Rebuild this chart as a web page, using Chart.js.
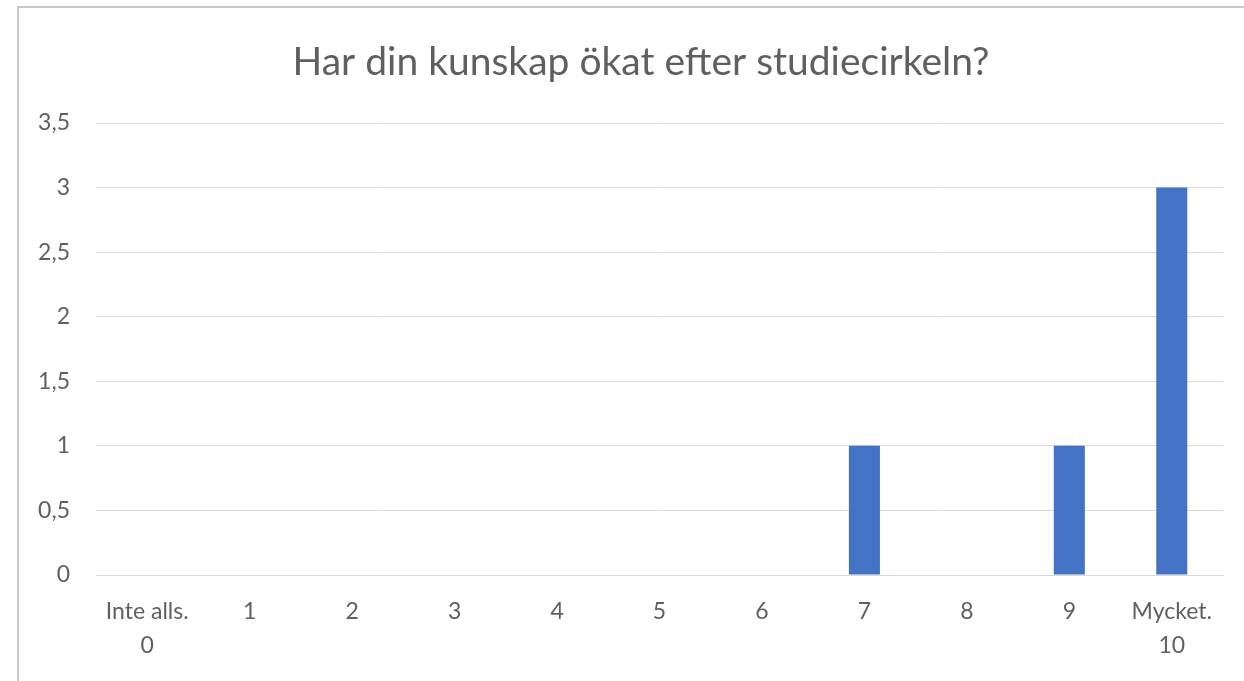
<!DOCTYPE html>
<html>
<head>
<meta charset="utf-8">
<script src="https://cdn.jsdelivr.net/npm/chart.js@4/dist/chart.umd.min.js"></script>
<style>
  html, body { margin:0; padding:0; background:#fff; overflow:hidden; }
  #frame { position:absolute; left:17px; top:6px; width:1400px; height:800px;
           border-top:2px solid #c8c8c8; border-left:2px solid #c8c8c8; box-sizing:border-box; }
  #wrap { position:absolute; left:0; top:0; width:1244px; height:681px; }
</style>
</head>
<body>
<div id="frame"></div>
<div id="wrap"><canvas id="chart"></canvas></div>
<script>
// ─── Data ─────────────────────────────────────────
const categories = [['Inte alls.', '0'], '1', '2', '3', '4', '5', '6', '7', '8', '9', ['Mycket.', '10']];
const answers    = [0, 0, 0, 0, 0, 0, 0, 1, 0, 1, 3];
const yTicks     = [0, 0.5, 1, 1.5, 2, 2.5, 3, 3.5];
const TITLE      = 'Har din kunskap ökat efter studiecirkeln?';

const TEXT = '#5f5f5f';
const GRID = '#d9d9d9';
const BAR  = '#4472c4';
const FONT = "Lato, 'Open Sans', sans-serif";

Chart.defaults.font.family = FONT;
Chart.defaults.color = TEXT;

// Titeln ligger lite till höger om plotens mitt, som i Excel-originalet
const titlePlugin = {
  id: 'offsetTitle',
  afterDraw(chart) {
    const ctx = chart.ctx;
    ctx.save();
    ctx.font = `39px ${FONT}`;
    ctx.fillStyle = TEXT;
    ctx.textAlign = 'center';
    ctx.textBaseline = 'middle';
    ctx.fillText(TITLE, 641, 62);
    ctx.restore();
  },
};

new Chart(document.getElementById('chart'), {
  type: 'bar',
  data: {
    labels: categories,
    datasets: [{
      data: answers,
      backgroundColor: BAR,
      borderWidth: 0,
      categoryPercentage: 1,
      barPercentage: 0.303,
    }],
  },
  options: {
    responsive: true, maintainAspectRatio: false, animation: false,
    layout: { padding: { left: 0, top: 123, right: 21, bottom: 0 } },
    scales: {
      x: {
        grid: { display: false },
        border: { color: GRID, width: 1 },
        ticks: { font: { size: 23, lineHeight: 1.5 }, padding: 11, maxRotation: 0, autoSkip: false },
        afterFit: s => { s.height = 106; },
      },
      y: {
        min: 0, max: 3.5,
        afterBuildTicks: s => { s.ticks = yTicks.map(v => ({ value: v })); },
        grid: { color: GRID, drawTicks: false, lineWidth: 1 },
        border: { display: false },
        ticks: { font: { size: 23 }, padding: 26, callback: v => String(v).replace('.', ',') },
        afterFit: s => { s.width = 96; },
      },
    },
    plugins: {
      legend: { display: false },
      tooltip: { enabled: false },
      title: { display: false },
    },
  },
  plugins: [titlePlugin],
});
</script>
</body>
</html>
